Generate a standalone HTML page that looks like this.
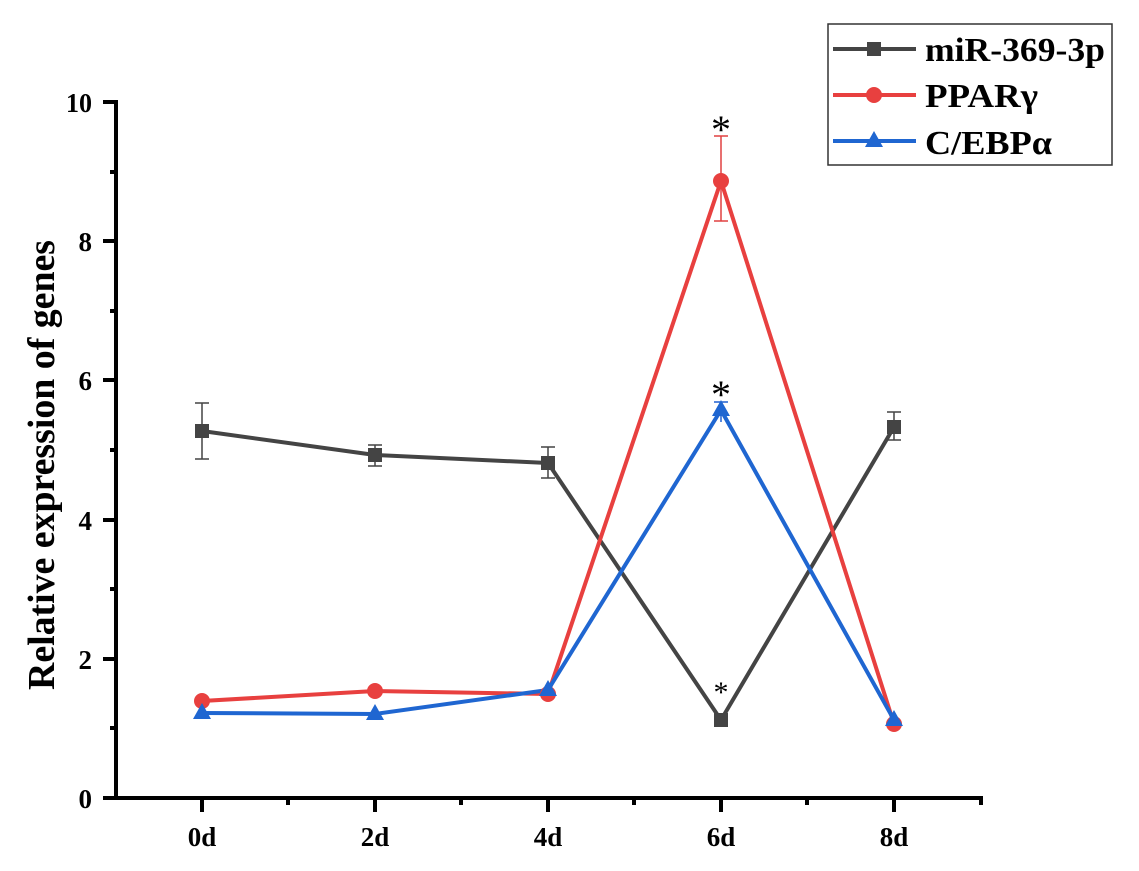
<!DOCTYPE html><html><head><style>body{margin:0;background:#fff}</style></head><body>
<svg width="1139" height="866" xmlns="http://www.w3.org/2000/svg" font-family="Liberation Serif, serif" font-weight="bold">
<g stroke="#000" stroke-width="4" fill="none">
<line x1="116" y1="100" x2="116" y2="800"/>
<line x1="114" y1="798" x2="983" y2="798"/>
</g>
<g stroke="#000" stroke-width="4">
<line x1="103" y1="798" x2="116" y2="798"/><line x1="103" y1="659" x2="116" y2="659"/><line x1="103" y1="520" x2="116" y2="520"/><line x1="103" y1="380" x2="116" y2="380"/><line x1="103" y1="241" x2="116" y2="241"/><line x1="103" y1="102" x2="116" y2="102"/>
<line x1="110" y1="728" x2="116" y2="728"/><line x1="110" y1="589" x2="116" y2="589"/><line x1="110" y1="450" x2="116" y2="450"/><line x1="110" y1="311" x2="116" y2="311"/><line x1="110" y1="172" x2="116" y2="172"/>
<line x1="202" y1="798" x2="202" y2="812"/><line x1="375" y1="798" x2="375" y2="812"/><line x1="548" y1="798" x2="548" y2="812"/><line x1="721" y1="798" x2="721" y2="812"/><line x1="894" y1="798" x2="894" y2="812"/>
<line x1="288" y1="798" x2="288" y2="805"/><line x1="461" y1="798" x2="461" y2="805"/><line x1="634" y1="798" x2="634" y2="805"/><line x1="807" y1="798" x2="807" y2="805"/><line x1="981" y1="798" x2="981" y2="805"/>
</g>
<g font-size="27" text-anchor="end">
<text x="92" y="808">0</text><text x="92" y="669">2</text><text x="92" y="530">4</text><text x="92" y="390">6</text><text x="92" y="251">8</text><text x="92" y="112" textLength="26" lengthAdjust="spacingAndGlyphs">10</text>
</g>
<g font-size="27" text-anchor="middle">
<text x="202" y="846">0d</text><text x="375" y="846">2d</text><text x="548" y="846">4d</text><text x="721" y="846">6d</text><text x="894" y="846">8d</text>
</g>
<text transform="translate(54,465) rotate(-90)" font-size="38" text-anchor="middle" textLength="450" lengthAdjust="spacingAndGlyphs">Relative expression of genes</text>
<g stroke-width="1.5" fill="none">
<path d="M202 403V459M195 403H209M195 459H209 M375 445V466M368 445H382M368 466H382 M548 447V478M541 447H555M541 478H555 M894 412V440M887 412H901M887 440H901" stroke="#444"/>
<path d="M721 136V221M714 136H728M714 221H728" stroke="#e04040"/>
<path d="M721 402V422M714 402H728" stroke="#2060d0"/>
</g>
<g stroke-width="4" fill="none" stroke-linejoin="round">
<polyline stroke="#444" points="202,431 375,455 548,463 721,720 894,427"/>
<polyline stroke="#e8403f" points="202,701 375,691 548,694 721,181 894,724"/>
<polyline stroke="#1f66d1" points="202,713 375,714 548,690 721,410 894,720"/>
</g>
<g fill="#444"><rect x="195" y="424" width="14" height="14"/><rect x="368" y="448" width="14" height="14"/><rect x="541" y="456" width="14" height="14"/><rect x="714" y="713" width="14" height="14"/><rect x="887" y="420" width="14" height="14"/></g>
<g fill="#e8403f"><circle cx="202" cy="701" r="8"/><circle cx="375" cy="691" r="8"/><circle cx="548" cy="694" r="8"/><circle cx="721" cy="181" r="8"/><circle cx="894" cy="724" r="8"/></g>
<g fill="#1f66d1"><path d="M202 703l9 16h-18z"/><path d="M375 704l9 16h-18z"/><path d="M548 680l9 16h-18z"/><path d="M721 400l9 16h-18z"/><path d="M894 710l9 16h-18z"/></g>
<g font-size="40" font-weight="normal" text-anchor="middle"><text x="721" y="143">*</text><text x="721" y="408">*</text></g>
<text x="721" y="702" font-size="30" font-weight="normal" text-anchor="middle">*</text>
<rect x="828" y="24" width="284" height="141" fill="#fff" stroke="#333" stroke-width="1.5"/>
<g stroke-width="4"><line x1="833" y1="49" x2="916" y2="49" stroke="#444"/><line x1="833" y1="95" x2="916" y2="95" stroke="#e8403f"/><line x1="833" y1="141" x2="916" y2="141" stroke="#1f66d1"/></g>
<rect x="867" y="42" width="14" height="14" fill="#444"/><circle cx="874" cy="95" r="8" fill="#e8403f"/><path d="M874 131l9 16h-18z" fill="#1f66d1"/>
<g font-size="34"><text x="925" y="61" textLength="180" lengthAdjust="spacingAndGlyphs">miR-369-3p</text><text x="925" y="107" textLength="113" lengthAdjust="spacingAndGlyphs">PPARγ</text><text x="925" y="154" textLength="127" lengthAdjust="spacingAndGlyphs">C/EBPα</text></g>
</svg></body></html>
